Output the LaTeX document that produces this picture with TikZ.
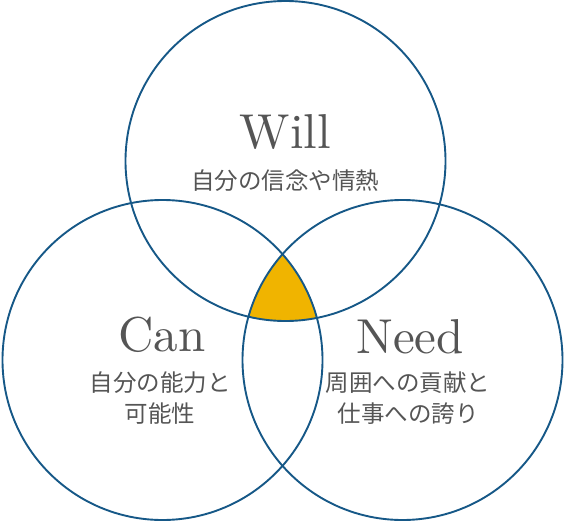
\documentclass[tikz,border=0pt]{standalone}
\usepackage{fontspec}
\newfontfamily\jpfont{Noto Sans CJK JP}
\newfontfamily\titlefont{lmroman10-regular.otf}
\usetikzlibrary{positioning}
\definecolor{ringBlue}{RGB}{22,88,135}
\definecolor{coreGold}{RGB}{240,180,0}
\definecolor{textGrey}{RGB}{85,85,85}

\begin{document}
\begin{tikzpicture}[
  x=1pt, y=-1pt,
  ring/.style={draw=ringBlue, line width=1.9pt},
  title/.style={text=textGrey, inner sep=0pt, anchor=base,
                font=\titlefont\fontsize{49}{49}\selectfont},
  desc/.style={text=textGrey, inner sep=0pt, align=center,
               font=\jpfont\fontsize{23.5}{31}\selectfont},
]

\def\ringR{160pt}

\useasboundingbox (0,0) rectangle (565,522);

% ---------- ring centres ----------
\coordinate (willC) at (285.5,161);
\coordinate (canC)  at (162.5,360);
\coordinate (needC) at (402.5,360);

% ---------- common core ----------
\begin{scope}
  \clip (willC) circle[radius=\ringR];
  \clip (canC) circle[radius=\ringR];
  \fill[coreGold] (needC) circle[radius=\ringR];
\end{scope}

% ---------- rings ----------
\draw[ring] (willC) circle[radius=\ringR];
\draw[ring] (canC)  circle[radius=\ringR];
\draw[ring] (needC) circle[radius=\ringR];

% ---------- labels ----------
\node[title] (willT) at (285.5,148) {Will};
\node[desc]  (willD) at (285,181) {自分の信念や情熱};

\node[title] (canT) at (162,351) {Can};
\node[desc]  (canD) at (160,398.5) {自分の能力と\\可能性};

\node[title] (needT) at (410,353) {Need};
\node[desc]  (needD) at (408,398.5) {周囲への貢献と\\仕事への誇り};

\end{tikzpicture}
\end{document}
